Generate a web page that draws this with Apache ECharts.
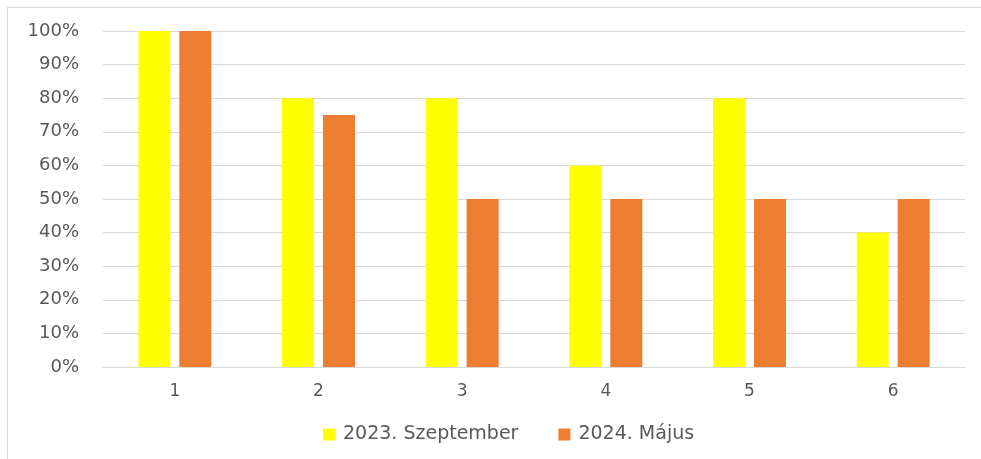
<!DOCTYPE html>
<html>
<head>
<meta charset="utf-8">
<script src="https://cdn.jsdelivr.net/npm/echarts@6/dist/echarts.min.js"></script>
<style>
  html, body { margin: 0; padding: 0; background: #fff; }
  #frame { position: absolute; left: 7px; top: 7px; right: 0; bottom: 0;
           border-top: 1px solid #d9d9d9; border-left: 1px solid #d9d9d9; }
  #chart { position: absolute; left: 0; top: 0; width: 981px; height: 459px; }
</style>
</head>
<body>
<div id="frame"></div>
<div id="chart"></div>
<script>
// === Données ===
const categories = ['1', '2', '3', '4', '5', '6'];
const sept2023 = [100, 80, 80, 60, 80, 40];
const maj2024 = [100, 75, 50, 50, 50, 50];
const seriesNames = ['2023. Szeptember', '2024. Május'];

const chart = echarts.init(document.getElementById('chart'));
const labelColor = '#595959';
const police = 'DejaVu Sans';

chart.setOption({
    animation: false,
    textStyle: { fontFamily: police },
    grid: { left: 103, right: 16, top: 31, bottom: 92 },
    legend: {
        bottom: 10,
        left: 318,
        itemWidth: 12,
        itemHeight: 12,
        itemGap: 40,
        icon: 'rect',
        textStyle: { color: labelColor, fontSize: 19, fontFamily: police, padding: [0, 0, 0, 3] },
        data: seriesNames
    },
    xAxis: {
        type: 'category',
        data: categories,
        axisLine: { lineStyle: { color: '#d9d9d9' } },
        axisTick: { show: false },
        axisLabel: { color: labelColor, fontSize: 17, margin: 16 }
    },
    yAxis: {
        type: 'value',
        min: 0,
        max: 100,
        interval: 10,
        axisLine: { show: false },
        axisTick: { show: false },
        axisLabel: { color: labelColor, fontSize: 18, margin: 24, formatter: v => v + '%' },
        splitLine: { lineStyle: { color: '#d9d9d9' } }
    },
    series: [
        { name: seriesNames[0], type: 'bar', data: sept2023, barWidth: 32, barGap: '28%',
          itemStyle: { color: '#FFFF00' } },
        { name: seriesNames[1], type: 'bar', data: maj2024, barWidth: 32,
          itemStyle: { color: '#ED7D31' } }
    ]
});
</script>
</body>
</html>
